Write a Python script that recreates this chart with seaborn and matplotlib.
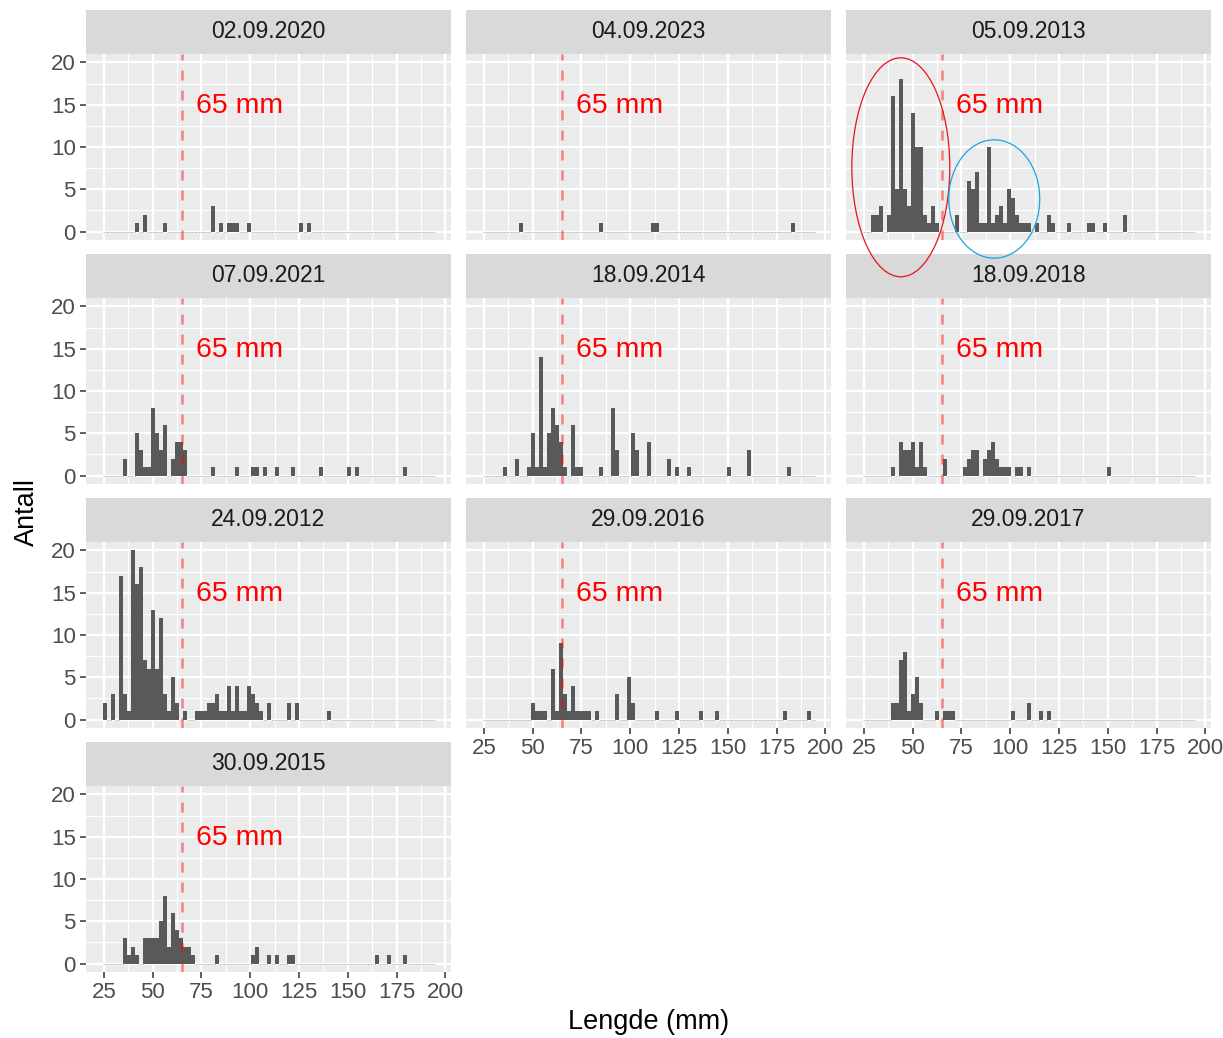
import matplotlib
matplotlib.use("Agg")
import pandas as pd
import matplotlib.pyplot as plt
import seaborn as sns
from matplotlib.patches import Ellipse

# Datoer (fasetter) i rekkefolge
datoer = ['02.09.2020', '04.09.2023', '05.09.2013', '07.09.2021', '18.09.2014',
          '18.09.2018', '24.09.2012', '29.09.2016', '29.09.2017', '30.09.2015']

# Lengde (mm, midt i klassen) og antall fisk, lest av figuren
lengde_2020 = [41.7, 45.8, 56.1, 80.7, 84.8, 88.9, 90.9, 93.0, 99.1, 125.8, 129.9]
antall_2020 = [1, 2, 1, 3, 1, 1, 1, 1, 1, 1, 1]

lengde_2023 = [43.8, 84.8, 111.4, 113.5, 183.2]
antall_2023 = [1, 1, 1, 1, 1]

lengde_2013 = [29.4, 31.5, 33.5, 37.6, 39.7, 41.7, 43.8, 45.8, 47.9, 49.9, 52.0, 54.0, 56.1,
               58.1, 60.2, 62.2, 72.5, 78.6, 80.7, 82.7, 84.8, 86.8, 88.9, 90.9, 93.0, 95.0,
               97.1, 99.1, 101.2, 103.2, 105.3, 107.3, 109.4, 113.5, 119.6, 121.7, 129.9,
               140.1, 142.2, 148.3, 158.6]
antall_2013 = [2, 2, 3, 2, 16, 5, 18, 5, 3, 14, 10, 10, 2,
               1, 3, 1, 2, 6, 5, 7, 1, 1, 10, 1, 2, 3,
               1, 5, 4, 2, 1, 1, 1, 1, 2, 1, 1,
               1, 1, 1, 2]

lengde_2021 = [35.6, 41.7, 43.8, 45.8, 47.9, 49.9, 52.0, 54.0, 56.1, 60.2, 62.2, 64.3, 66.3,
               80.7, 93.0, 101.2, 103.2, 107.3, 113.5, 121.7, 136.0, 150.4, 154.5, 179.1]
antall_2021 = [2, 5, 3, 1, 1, 8, 5, 3, 6, 2, 4, 4, 3,
               1, 1, 1, 1, 1, 1, 1, 1, 1, 1, 1]

lengde_2014 = [35.6, 41.7, 47.9, 49.9, 52.0, 54.0, 56.1, 58.1, 60.2, 62.2, 64.3, 66.3, 70.4,
               72.5, 74.5, 84.8, 90.9, 93.0, 101.2, 103.2, 109.4, 119.6, 123.7, 129.9, 150.4,
               160.6, 181.1]
antall_2014 = [1, 2, 1, 5, 1, 14, 1, 5, 8, 6, 4, 1, 6,
               1, 1, 1, 8, 3, 5, 3, 4, 2, 1, 1, 1,
               3, 1]

lengde_2018 = [39.7, 43.8, 45.8, 47.9, 49.9, 52.0, 54.0, 56.1, 66.3, 76.6, 78.6, 80.7, 82.7,
               86.8, 88.9, 90.9, 93.0, 95.0, 97.1, 99.1, 103.2, 105.3, 109.4, 150.4]
antall_2018 = [1, 4, 3, 3, 4, 1, 4, 1, 2, 1, 2, 3, 3,
               2, 3, 4, 2, 1, 1, 1, 1, 1, 1, 1]

lengde_2012 = [25.3, 29.4, 33.5, 35.6, 37.6, 39.7, 41.7, 43.8, 45.8, 47.9, 49.9, 52.0, 54.0,
               56.1, 58.1, 60.2, 62.2, 66.3, 72.5, 74.5, 76.6, 78.6, 80.7, 82.7, 84.8, 86.8,
               88.9, 90.9, 93.0, 95.0, 97.1, 99.1, 101.2, 103.2, 105.3, 109.4, 119.6, 123.7,
               140.1]
antall_2012 = [2, 3, 17, 3, 1, 20, 16, 18, 7, 6, 13, 6, 12,
               3, 1, 5, 2, 1, 1, 1, 1, 2, 2, 3, 1, 1,
               4, 1, 4, 1, 1, 4, 3, 2, 1, 2, 2, 2,
               1]

lengde_2016 = [49.9, 52.0, 54.0, 56.1, 60.2, 62.2, 64.3, 66.3, 68.4, 70.4, 72.5, 74.5, 76.6,
               78.6, 82.7, 93.0, 99.1, 101.2, 113.5, 123.7, 136.0, 144.2, 179.1, 191.4]
antall_2016 = [2, 1, 1, 1, 6, 1, 9, 3, 1, 4, 1, 1, 1,
               1, 1, 3, 5, 2, 1, 1, 1, 1, 1, 1]

lengde_2017 = [39.7, 41.7, 43.8, 45.8, 47.9, 49.9, 52.0, 54.0, 62.2, 66.3, 68.4, 70.4,
               101.2, 109.4, 115.5, 119.6]
antall_2017 = [2, 2, 7, 8, 1, 3, 5, 2, 1, 1, 1, 1,
               1, 2, 1, 1]

lengde_2015 = [35.6, 37.6, 39.7, 41.7, 45.8, 47.9, 49.9, 52.0, 54.0, 56.1, 58.1, 60.2, 62.2,
               64.3, 66.3, 68.4, 70.4, 82.7, 101.2, 103.2, 109.4, 113.5, 119.6, 121.7, 164.7,
               170.9, 179.1]
antall_2015 = [3, 1, 2, 1, 3, 3, 3, 3, 5, 8, 2, 6, 4,
               3, 2, 2, 1, 1, 1, 2, 1, 1, 1, 1, 1,
               1, 1]

serier = [(lengde_2020, antall_2020), (lengde_2023, antall_2023), (lengde_2013, antall_2013),
          (lengde_2021, antall_2021), (lengde_2014, antall_2014), (lengde_2018, antall_2018),
          (lengde_2012, antall_2012), (lengde_2016, antall_2016), (lengde_2017, antall_2017),
          (lengde_2015, antall_2015)]

rader = []
for dato, (lengder, antall) in zip(datoer, serier):
    for l, n in zip(lengder, antall):
        rader.append({'Dato': dato, 'Lengde': l, 'Antall': n})
df = pd.DataFrame(rader)

grense = 65
x_ticks = [25, 50, 75, 100, 125, 150, 175, 200]
y_ticks = [0, 5, 10, 15, 20]
tekst_x, tekst_y = 94.5, 14.8

# ellipser som markerer to arsklasser i 2013
ellipse_rod = (43.9, 7.6, 50.2, 25.9)
ellipse_bla = (91.8, 3.85, 46.6, 14.0)

plt.rcParams['font.family'] = ['Liberation Sans', 'DejaVu Sans']

W, H = 1223, 1038
fig = plt.figure(figsize=(W / 100, H / 100), dpi=100)

kol_x = [86, 466, 846]
rad_y = [54, 298, 542, 786]
pw, ph, sh = 365, 186, 44
med_x_akse = {'29.09.2016', '29.09.2017', '30.09.2015'}

for i, dato in enumerate(datoer):
    r, c = divmod(i, 3)
    x0, y0 = kol_x[c], rad_y[r]
    ax = fig.add_axes([x0 / W, 1 - (y0 + ph) / H, pw / W, ph / H])
    sax = fig.add_axes([x0 / W, 1 - y0 / H, pw / W, sh / H])

    sub = df[df['Dato'] == dato]
    sns.histplot(data=sub, x='Lengde', weights='Antall', bins=83, binrange=(24.3, 194.45),
                 color='#595959', alpha=1, linewidth=0, ax=ax)
    for p in ax.patches:
        if p.get_height() == 0:
            p.set_edgecolor('#C4C4C4')
            p.set_linewidth(0.7)
            p.set_linestyle((0, (1.5, 1.5)))

    ax.axvline(grense, color='red', alpha=0.45, lw=1.8, linestyle=(0, (4, 4)), zorder=3)
    ax.text(tekst_x, tekst_y, '65 mm', color='red', fontsize=20.5, ha='center', va='center')

    ax.set_facecolor('#EBEBEB')
    ax.set_xlim(15.8, 202.9)
    ax.set_ylim(-1, 21)
    ax.set_xticks(x_ticks)
    ax.set_xticks([37.5, 62.5, 87.5, 112.5, 137.5, 162.5, 187.5], minor=True)
    ax.set_yticks(y_ticks)
    ax.set_yticks([2.5, 7.5, 12.5, 17.5], minor=True)
    ax.grid(which='major', color='white', lw=1.7)
    ax.grid(which='minor', color='white', lw=0.85)
    ax.set_axisbelow(True)
    for s in ax.spines.values():
        s.set_visible(False)
    ax.set_xlabel('')
    ax.set_ylabel('')
    ax.tick_params(which='minor', length=0)
    ax.tick_params(which='major', length=4.3, width=1.1, color='#333333',
                   labelcolor='#4D4D4D', labelsize=16, pad=3)
    if c != 0:
        ax.tick_params(axis='y', left=False, labelleft=False)
    if dato not in med_x_akse:
        ax.tick_params(axis='x', bottom=False, labelbottom=False)

    sax.set_facecolor('#D9D9D9')
    sax.set_xticks([])
    sax.set_yticks([])
    for s in sax.spines.values():
        s.set_visible(False)
    sax.text(0.5, 0.5, dato, ha='center', va='center', fontsize=16.5, color='#1A1A1A',
             transform=sax.transAxes)

    if dato == '05.09.2013':
        # ellipsene skal ligge over stripen under panelet
        ax.set_zorder(10)
        ex, ey, ew, eh = ellipse_rod
        ax.add_patch(Ellipse((ex, ey), ew, eh, fill=False, edgecolor='#E4141C', lw=0.9,
                             clip_on=False, zorder=5))
        ex, ey, ew, eh = ellipse_bla
        ax.add_patch(Ellipse((ex, ey), ew, eh, fill=False, edgecolor='#1AA3E6', lw=0.9,
                             clip_on=False, zorder=5))

fig.text(648.5 / W, 1 - 1022 / H, 'Lengde (mm)', ha='center', va='center', fontsize=19.5)
fig.text(27 / W, 1 - 512 / H, 'Antall', ha='center', va='center', fontsize=19.5, rotation=90)

fig.savefig('out.png', dpi=100)
